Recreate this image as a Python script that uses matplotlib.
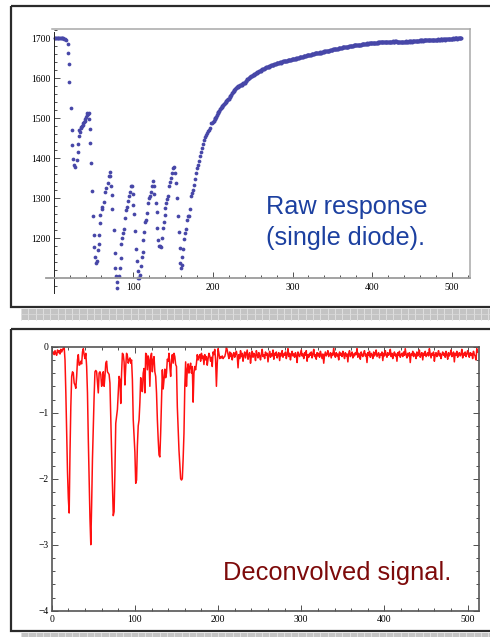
import numpy as np
import matplotlib
matplotlib.use("Agg")
import matplotlib.pyplot as plt
from matplotlib.patches import Rectangle
from matplotlib.ticker import FixedLocator, MultipleLocator

plt.rcParams['font.family'] = ['Liberation Serif', 'DejaVu Serif']

# ---------------- data ----------------
# raw response, first part (read positions, value)
raw_head_x = [1, 2, 3, 4, 5, 6, 7, 8, 9, 10, 11, 12, 13, 14, 15,
              17.5, 18.3, 19.0, 19.8, 21.6, 22.5, 23.3, 24.5, 25.4, 26.7,
              28.8, 30.0, 30.8, 31.5, 32.1, 33.0, 33.8, 34.6, 35.5, 36.3,
              37.1, 38.0, 38.8, 39.6, 40.5, 41.3, 42.1, 43.0, 43.9, 44.7,
              45.1, 45.9, 46.8, 48.4, 49.3, 50.2, 51.0, 52.2, 53.0, 53.8,
              55.2, 56.4, 56.8, 58.1, 58.7, 60.2, 61.2, 63.1, 64.8, 66.0,
              67.8, 69.0, 70.3, 70.8, 71.6, 72.8, 73.6, 75.3, 76.6, 77.4,
              78.2, 79.1, 79.9, 82.0, 82.9, 84.1, 84.9, 85.8, 86.6, 87.9,
              89.1, 90.4, 91.7, 92.9, 94.2, 95.4, 97.0, 98.3, 99.2, 100.0,
              100.9, 102.1, 103.4, 104.3, 105.5, 106.3, 107.7, 108.8, 110.1, 111.3,
              112.0, 112.6, 113.5, 114.7, 115.5, 116.9, 118.1, 119.3, 120.6, 121.9,
              123.1, 124.4, 125.7, 126.4, 128.2, 129.4, 130.2, 131.1, 132.3, 133.6,
              134.5, 136.1, 137.4, 138.2, 139.5, 140.3, 141.5, 142.4, 143.6, 144.9,
              146.2, 147.4, 148.7, 149.9, 151.2, 152.4, 154.1, 155.0, 156.2, 157.5,
              158.4, 159.2, 160.0, 160.9, 161.7, 162.5, 163.4, 164.6, 165.9, 167.2,
              168.4, 169.7, 170.9, 172.2, 173.4, 174.7, 176.0, 177.2, 178.5, 179.8,
              181.0, 182.3, 183.6, 184.8, 186.1, 187.3, 188.6, 189.9, 191.1, 192.4,
              194.0, 195.2, 196.5, 197.7, 199.0, 200.0]
raw_head_y = [1701, 1702, 1702, 1701, 1702, 1702, 1701, 1701, 1702, 1701, 1700, 1700, 1699, 1698, 1696,
              1685, 1664, 1635, 1590, 1526, 1471, 1432, 1397, 1383, 1377,
              1396, 1416, 1436, 1456, 1471, 1466, 1478, 1475, 1481, 1484,
              1487, 1490, 1494, 1498, 1502, 1508, 1512, 1510, 1514, 1498,
              1472, 1439, 1387, 1317, 1254, 1207, 1177, 1152, 1137, 1142,
              1169, 1184, 1207, 1238, 1258, 1278, 1273, 1291, 1314, 1324,
              1337, 1354, 1366, 1354, 1329, 1308, 1272, 1219, 1162, 1124,
              1104, 1090, 1075, 1104, 1124, 1150, 1185, 1200, 1212, 1222,
              1250, 1271, 1278, 1292, 1304, 1316, 1329, 1330, 1311, 1283,
              1260, 1218, 1172, 1142, 1118, 1099, 1099, 1108, 1131, 1152,
              1165, 1196, 1214, 1239, 1245, 1262, 1287, 1299, 1304, 1314,
              1329, 1342, 1330, 1311, 1287, 1264, 1226, 1196, 1179, 1179,
              1177, 1201, 1225, 1239, 1258, 1274, 1287, 1297, 1304, 1329,
              1339, 1350, 1362, 1375, 1379, 1362, 1337, 1300, 1254, 1214,
              1175, 1137, 1124, 1133, 1152, 1172, 1197, 1212, 1222, 1246,
              1256, 1254, 1272, 1306, 1312, 1321, 1333, 1348, 1362, 1375,
              1383, 1394, 1406, 1416, 1426, 1435, 1446, 1454, 1458, 1462,
              1467, 1471, 1475, 1487, 1489, 1491]

# raw response, indices 201..512
raw_tail = [
    1493, 1497, 1501, 1504, 1509, 1512, 1516, 1519, 1524, 1526,
    1529, 1531, 1534, 1536, 1538, 1541, 1544, 1546, 1548, 1549,
    1553, 1555, 1559, 1563, 1566, 1569, 1571, 1574, 1576, 1577,
    1579, 1580, 1581, 1582, 1583, 1584, 1586, 1587, 1588, 1589,
    1592, 1594, 1597, 1598, 1600, 1602, 1603, 1605, 1606, 1607,
    1608, 1610, 1611, 1612, 1614, 1615, 1616, 1617, 1618, 1619,
    1621, 1622, 1623, 1624, 1625, 1626, 1627, 1627, 1628, 1629,
    1630, 1630, 1632, 1632, 1633, 1634, 1635, 1635, 1636, 1637,
    1638, 1638, 1639, 1640, 1639, 1641, 1641, 1642, 1642, 1642,
    1643, 1644, 1643, 1645, 1645, 1646, 1645, 1646, 1647, 1647,
    1648, 1647, 1649, 1649, 1650, 1650, 1651, 1650, 1652, 1652,
    1653, 1653, 1654, 1655, 1655, 1656, 1656, 1657, 1657, 1658,
    1658, 1659, 1659, 1660, 1660, 1660, 1661, 1662, 1662, 1662,
    1663, 1663, 1664, 1664, 1665, 1664, 1665, 1666, 1666, 1667,
    1667, 1668, 1667, 1668, 1669, 1669, 1670, 1670, 1671, 1671,
    1672, 1672, 1673, 1672, 1673, 1674, 1674, 1675, 1675, 1675,
    1676, 1676, 1677, 1677, 1677, 1678, 1678, 1679, 1679, 1679,
    1680, 1680, 1680, 1681, 1681, 1681, 1682, 1682, 1682, 1683,
    1683, 1683, 1684, 1684, 1684, 1684, 1685, 1685, 1685, 1686,
    1686, 1686, 1686, 1687, 1686, 1687, 1687, 1688, 1687, 1688,
    1688, 1688, 1689, 1688, 1689, 1689, 1690, 1689, 1690, 1690,
    1690, 1690, 1691, 1690, 1691, 1691, 1690, 1691, 1692, 1691,
    1691, 1692, 1692, 1691, 1692, 1693, 1692, 1692, 1693, 1693,
    1691, 1692, 1692, 1691, 1692, 1692, 1691, 1692, 1692, 1692,
    1692, 1692, 1693, 1692, 1692, 1693, 1692, 1693, 1693, 1692,
    1693, 1693, 1694, 1693, 1694, 1694, 1693, 1694, 1694, 1695,
    1694, 1695, 1695, 1694, 1695, 1696, 1695, 1695, 1696, 1695,
    1696, 1695, 1696, 1696, 1697, 1696, 1696, 1697, 1697, 1696,
    1697, 1697, 1698, 1697, 1697, 1698, 1698, 1697, 1698, 1698,
    1697, 1698, 1698, 1699, 1698, 1698, 1699, 1699, 1698, 1699,
    1699, 1700, 1699, 1700, 1701, 1700, 1699, 1700, 1701, 1701,
    1702, 1701]

# deconvolved signal, indices 1..512
deconv = [
    -0.10, -0.08, -0.12, -0.06, -0.11, -0.13, -0.05, -0.09, -0.06, -0.11,
    -0.04, -0.08, -0.05, -0.02, -0.01, -0.20, -0.70, -1.30, -1.90, -2.30,
    -2.52, -1.60, -0.90, -0.45, -0.38, -0.40, -0.55, -0.58, -0.63, -0.45,
    -0.20, -0.12, -0.28, -0.27, -0.22, -0.26, -0.08, -0.03, -0.12, -0.18,
    -0.10, -0.30, -0.70, -1.40, -2.00, -2.60, -3.00, -2.40, -1.70, -1.20,
    -0.75, -0.38, -0.36, -0.38, -0.55, -0.70, -0.40, -0.38, -0.42, -0.60,
    -0.55, -0.38, -0.60, -0.45, -0.25, -0.22, -0.38, -0.40, -0.42, -0.55,
    -1.10, -1.60, -2.10, -2.56, -2.50, -1.90, -1.16, -1.05, -0.95, -0.70,
    -0.45, -0.50, -0.86, -0.40, -0.10, -0.12, -0.23, -0.58, -0.30, -0.10,
    -0.14, -0.25, -0.20, -0.17, -0.25, -0.20, -0.50, -1.10, -1.36, -1.60,
    -2.07, -2.02, -1.50, -1.20, -1.11, -0.85, -0.47, -0.66, -0.68, -0.40,
    -0.33, -0.70, -0.10, -0.12, -0.35, -0.14, -0.20, -0.60, -0.15, -0.10,
    -0.38, -0.20, -0.15, -0.38, -0.45, -0.70, -1.10, -1.40, -1.64, -1.67,
    -1.30, -0.80, -0.35, -0.64, -0.50, -0.34, -0.47, -0.40, -0.19, -0.22,
    -0.10, -0.30, -0.45, -0.20, -0.12, -0.25, -0.10, -0.15, -0.27, -0.30,
    -0.91, -1.25, -1.57, -1.80, -2.00, -2.02, -2.00, -1.70, -1.31, -0.60,
    -0.23, -0.60, -0.35, -0.26, -0.40, -0.30, -0.25, -0.40, -0.30, -0.84,
    -0.40, -0.30, -0.35, -0.25, -0.12, -0.20, -0.15, -0.12, -0.22, -0.10,
    -0.18, -0.14, -0.27, -0.12, -0.20, -0.15, -0.28, -0.18, -0.10, -0.14,
    -0.22, -0.16, -0.30, -0.08, -0.12, -0.04, -0.20, -0.60, -0.25, -0.03,
    -0.10, -0.18, -0.15, -0.17, -0.14, -0.18, -0.16, -0.15, -0.10, -0.01,
    -0.05, -0.12, -0.18, -0.08, -0.15, -0.10, -0.20, -0.13, -0.09, -0.16,
    -0.11, -0.07, -0.14, -0.32, -0.12, -0.18, -0.06, -0.15, -0.10, -0.22,
    -0.13, -0.08, -0.17, -0.11, -0.05, -0.19, -0.12, -0.09, -0.25, -0.14,
    -0.07, -0.16, -0.10, -0.13, -0.21, -0.06, -0.12, -0.17, -0.09, -0.14,
    -0.20, -0.11, -0.04, -0.15, -0.12, -0.18, -0.08, -0.13, -0.10, -0.23,
    -0.12, -0.07, -0.16, -0.11, -0.14, -0.05, -0.19, -0.10, -0.13, -0.08,
    -0.17, -0.12, -0.09, -0.21, -0.10, -0.14, -0.06, -0.16, -0.11, -0.13,
    -0.08, -0.18, -0.12, -0.03, -0.15, -0.10, -0.20, -0.12, -0.07, -0.14,
    -0.11, -0.16, -0.09, -0.13, -0.24, -0.08, -0.12, -0.15, -0.10, -0.05,
    -0.14, -0.11, -0.18, -0.09, -0.13, -0.06, -0.22, -0.12, -0.16, -0.10,
    -0.13, -0.08, -0.17, -0.11, -0.04, -0.15, -0.12, -0.19, -0.09, -0.14,
    -0.10, -0.16, -0.07, -0.12, -0.18, -0.11, -0.25, -0.13, -0.08, -0.14,
    -0.11, -0.06, -0.15, -0.12, -0.09, -0.17, -0.10, -0.13, -0.02, -0.12,
    -0.16, -0.09, -0.14, -0.11, -0.20, -0.08, -0.13, -0.10, -0.15, -0.07,
    -0.12, -0.18, -0.09, -0.14, -0.11, -0.23, -0.10, -0.06, -0.15, -0.12,
    -0.08, -0.17, -0.11, -0.14, -0.09, -0.12, -0.03, -0.16, -0.10, -0.13,
    -0.19, -0.08, -0.12, -0.15, -0.10, -0.06, -0.14, -0.11, -0.24, -0.09,
    -0.13, -0.07, -0.16, -0.10, -0.12, -0.18, -0.08, -0.14, -0.11, -0.05,
    -0.15, -0.12, -0.09, -0.17, -0.11, -0.13, -0.08, -0.21, -0.10, -0.14,
    -0.06, -0.12, -0.16, -0.09, -0.13, -0.11, -0.04, -0.15, -0.10, -0.18,
    -0.12, -0.08, -0.14, -0.11, -0.22, -0.09, -0.13, -0.07, -0.16, -0.12,
    -0.10, -0.15, -0.08, -0.13, -0.03, -0.12, -0.17, -0.10, -0.14, -0.09,
    -0.24, -0.11, -0.13, -0.07, -0.15, -0.10, -0.12, -0.18, -0.08, -0.14,
    -0.11, -0.05, -0.16, -0.12, -0.09, -0.20, -0.10, -0.13, -0.07, -0.15,
    -0.12, -0.09, -0.14, -0.03, -0.11, -0.17, -0.10, -0.13, -0.08, -0.22,
    -0.12, -0.09, -0.15, -0.11, -0.06, -0.14, -0.10, -0.18, -0.12, -0.08,
    -0.13, -0.10, -0.16, -0.07, -0.12, -0.19, -0.09, -0.14, -0.11, -0.05,
    -0.15, -0.12, -0.08, -0.23, -0.10, -0.13, -0.07, -0.16, -0.11, -0.09,
    -0.14, -0.12, -0.04, -0.17, -0.10, -0.13, -0.08, -0.15, -0.11, -0.06,
    -0.12, -0.16, -0.09, -0.13, -0.10, -0.18, -0.07, -0.12, -0.14, -0.20,
    -0.03, -0.08]

raw_yticks = [1200, 1300, 1400, 1500, 1600, 1700]
raw_xticks = [100, 200, 300, 400, 500]
dec_yticks = [-4, -3, -2, -1, 0]
dec_xticks = [0, 100, 200, 300, 400, 500]

label_top = ["Raw response", "(single diode)."]
label_bot = "Deconvolved signal."

# ---------------- figure ----------------
W, H = 490, 637
fig = plt.figure(figsize=(W / 100, H / 100), dpi=100)
fig.patch.set_facecolor('white')

bg = fig.add_axes([0, 0, 1, 1], zorder=0)
bg.set_xlim(0, W)
bg.set_ylim(H, 0)
bg.axis('off')


def strip(y0, h):
    bg.add_patch(Rectangle((21, y0), W - 21 + 5, h, facecolor='#c4c4c4',
                           edgecolor='none'))
    for xv in np.arange(21, W + 1, 7.3):
        bg.plot([xv, xv], [y0, y0 + h], color='#e4e4e4', lw=0.6)
    bg.plot([21, W], [y0 + 4.5, y0 + 4.5], color='#dcdcdc', lw=0.5)


# slide boxes
bg.add_patch(Rectangle((10.7, 6.2), W + 20, 300.8, facecolor='none',
                       edgecolor='#2b2b2b', lw=1.6))
strip(309.3, 11)
bg.add_patch(Rectangle((10.7, 328.8), W + 20, 302.2, facecolor='none',
                       edgecolor='#2b2b2b', lw=1.6))
strip(632.8, 6)


def px_axes(x0, y0, x1, y1):
    return fig.add_axes([x0 / W, 1 - y1 / H, (x1 - x0) / W, (y1 - y0) / H],
                        zorder=1)


# ---------------- top panel ----------------
ax1 = px_axes(46, 29, 470, 293)
ax1.patch.set_alpha(0)
ax1.set_xlim(-9.7, 523)
ax1.set_ylim(1062.3, 1723.3)
ax1.plot(raw_head_x, raw_head_y, 'o', ms=2.7, mew=0, color='#4747a8', clip_on=False)
ax1.plot(np.arange(201, 201 + len(raw_tail)), raw_tail, 'o', ms=2.9, mew=0,
         color='#4747a8', clip_on=False)

ax1.spines['left'].set_position(('data', 0))
ax1.spines['left'].set_bounds(1062.3, 1717)
ax1.spines['left'].set_color('#222222')
ax1.spines['left'].set_linewidth(0.7)
ax1.spines['bottom'].set_position(('data', 1100))
ax1.spines['bottom'].set_color('#9c9c9c')
ax1.spines['bottom'].set_linewidth(1.3)
ax1.spines['top'].set_color('#a8a8a8')
ax1.spines['top'].set_linewidth(1.1)
ax1.spines['top'].set_bounds(-2.1, 523)
ax1.spines['right'].set_color('#a8a8a8')
ax1.spines['right'].set_linewidth(1.1)
ax1.spines['right'].set_bounds(1100, 1723.3)

ax1.yaxis.set_major_locator(FixedLocator(raw_yticks))
ax1.yaxis.set_minor_locator(MultipleLocator(20))
ax1.xaxis.set_major_locator(FixedLocator(raw_xticks))
ax1.xaxis.set_minor_locator(MultipleLocator(20))
ax1.tick_params(which='both', direction='in', top=False, right=False,
                color='#333333', width=0.6)
ax1.tick_params(which='major', length=4, labelsize=6.9)
ax1.tick_params(which='minor', length=2.3)
ax1.tick_params(axis='y', which='major', pad=2.3)
ax1.tick_params(axis='x', which='major', pad=4)

# ---------------- bottom panel ----------------
ax2 = px_axes(51.7, 346.7, 479.3, 610.7)
ax2.patch.set_alpha(0)
ax2.set_xlim(0, 514)
ax2.set_ylim(-4, 0)
ax2.plot(np.arange(1, 1 + len(deconv)), deconv, color='#ff1010', lw=1.1)
for s in ax2.spines.values():
    s.set_color('#555555')
    s.set_linewidth(1.2)
ax2.yaxis.set_major_locator(FixedLocator(dec_yticks))
ax2.yaxis.set_minor_locator(MultipleLocator(0.2))
ax2.xaxis.set_major_locator(FixedLocator(dec_xticks))
ax2.xaxis.set_minor_locator(MultipleLocator(20))
ax2.tick_params(which='both', direction='in', top=True, right=True,
                color='#333333', width=0.6)
ax2.tick_params(which='major', length=4, labelsize=6.9)
ax2.tick_params(which='minor', length=2.3)
ax2.tick_params(axis='y', which='major', pad=2.3)
ax2.tick_params(axis='x', which='major', pad=3.3)

# ---------------- annotation texts ----------------
fig.text(265.7, 214, label_top[0], transform=bg.transData, fontsize=18.2,
         family=['Liberation Sans', 'DejaVu Sans'], color='#1c40a0', va='baseline')
fig.text(265.7, 245, label_top[1], transform=bg.transData, fontsize=18.2,
         family=['Liberation Sans', 'DejaVu Sans'], color='#1c40a0', va='baseline')
fig.text(222.7, 580, label_bot, transform=bg.transData, fontsize=18.3,
         family=['Liberation Sans', 'DejaVu Sans'], color='#7d0a0a', va='baseline')

fig.savefig('out.png', dpi=100)
